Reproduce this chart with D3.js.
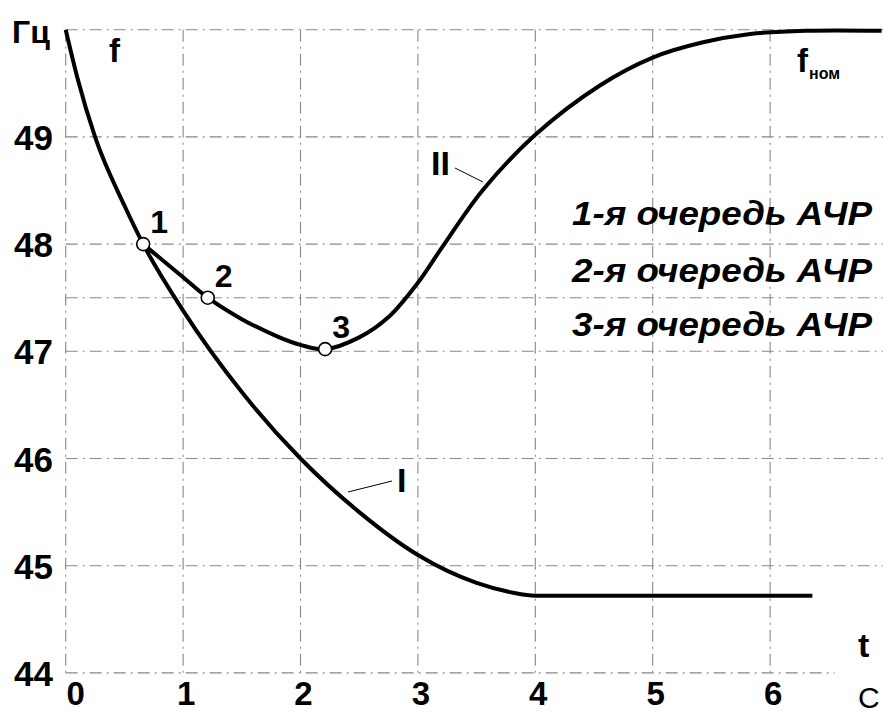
<!DOCTYPE html>
<html>
<head>
<meta charset="utf-8">
<script src="https://cdn.jsdelivr.net/npm/d3@7"></script>
<style>
  body { margin: 0; background: #fff; }
  svg { display: block; font-family: "Liberation Sans", Arial, sans-serif; }
</style>
</head>
<body>
<div id="chart"></div>
<script>
// curve I — без АЧР
const timeI = [0, 0.1, 0.25, 0.5, 0.66, 1, 1.5, 2, 2.5, 3, 3.5, 3.8, 4, 6.36];
const freqI = [50, 49.55, 49, 48.36, 48, 47.38, 46.62, 46.0, 45.5, 45.1, 44.84, 44.75, 44.72, 44.72];

// curve II — с АЧР
const timeII = [0.66, 1.0, 1.21, 1.5, 1.8, 2.0, 2.21, 2.5, 2.75, 3.0, 3.2, 3.55, 4.0, 4.55, 5.0, 5.42, 5.83, 6.3, 6.95];
const freqII = [48, 47.69, 47.5, 47.3, 47.14, 47.06, 47.02, 47.13, 47.32, 47.64, 47.96, 48.5, 49.02, 49.48, 49.74, 49.88, 49.96, 49.99, 49.99];

// очереди АЧР
const stageLabels = ["1", "2", "3"];
const stageTime = [0.66, 1.21, 2.21];
const stageFreq = [48, 47.5, 47.02];
const legendText = ["1-я очередь АЧР", "2-я очередь АЧР", "3-я очередь АЧР"];

const xTicks = [0, 1, 2, 3, 4, 5, 6];
const yTicks = [44, 45, 46, 47, 48, 49];
const yGrid = [44, 45, 46, 47, 47.5, 48, 49, 50];

const width = 883;
const height = 713;

const svg = d3.select("#chart")
    .append("svg")
    .attr("width", width)
    .attr("height", height);

const x = d3.scaleLinear()
    .domain([0, 7])
    .range([65.7, 887.5]);

const y = d3.scaleLinear()
    .domain([44, 50])
    .range([672.9, 29.7]);

// grid
svg.append("g")
    .attr("stroke", "#888")
    .attr("stroke-width", 1.1)
    .attr("stroke-dasharray", "12,5,2,5")
    .selectAll("line")
    .data(xTicks)
    .join("line")
    .attr("x1", d => x(d))
    .attr("x2", d => x(d))
    .attr("y1", y(50))
    .attr("y2", y(44));

svg.append("g")
    .attr("stroke", "#888")
    .attr("stroke-width", 1.1)
    .attr("stroke-dasharray", "12,5,2,5")
    .selectAll("line")
    .data(yGrid)
    .join("line")
    .attr("x1", x(0))
    .attr("x2", d => d === 44 ? x(6.55) : width)
    .attr("y1", d => y(d))
    .attr("y2", d => y(d));

// axis labels
svg.append("g")
    .attr("font-size", "35px")
    .attr("font-weight", "bold")
    .attr("text-anchor", "end")
    .selectAll("text")
    .data(yTicks)
    .join("text")
    .attr("x", 53)
    .attr("y", d => y(d) + 13)
    .text(d => d);

svg.append("g")
    .attr("font-size", "33px")
    .attr("font-weight", "bold")
    .attr("text-anchor", "middle")
    .selectAll("text")
    .data(xTicks)
    .join("text")
    .attr("x", d => x(d) + (d === 0 ? 10 : 3))
    .attr("y", 705)
    .text(d => d);

svg.append("text")
    .attr("x", 12).attr("y", 43)
    .attr("font-size", "32px").attr("font-weight", "bold")
    .text("Гц");

svg.append("text")
    .attr("x", 109).attr("y", 62)
    .attr("font-size", "33px").attr("font-weight", "bold")
    .text("f");

svg.append("text")
    .attr("x", 858).attr("y", 657)
    .attr("font-size", "34px").attr("font-weight", "bold")
    .text("t");

svg.append("text")
    .attr("x", 858).attr("y", 708)
    .attr("font-size", "30px")
    .text("С");

const fnom = svg.append("text")
    .attr("x", 797).attr("y", 72)
    .attr("font-size", "33px").attr("font-weight", "bold");
fnom.append("tspan").text("f");
fnom.append("tspan").attr("font-size", "16px").attr("dy", 7).attr("dx", 1).text("ном");

// curves
const lineI = d3.line()
    .x(d => x(d[0]))
    .y(d => y(d[1]))
    .curve(d3.curveMonotoneX);

const lineII = d3.line()
    .x(d => x(d[0]))
    .y(d => y(d[1]))
    .curve(d3.curveCatmullRom.alpha(0.5));

svg.append("path")
    .datum(d3.zip(timeI, freqI))
    .attr("fill", "none")
    .attr("stroke", "#000")
    .attr("stroke-width", 4)
    .attr("d", lineI);

svg.append("path")
    .datum(d3.zip(timeII, freqII))
    .attr("fill", "none")
    .attr("stroke", "#000")
    .attr("stroke-width", 4)
    .attr("d", lineII);

// leaders for I and II
svg.append("line")
    .attr("x1", 455).attr("y1", 168).attr("x2", 483).attr("y2", 182)
    .attr("stroke", "#000").attr("stroke-width", 1);
svg.append("text")
    .attr("x", 431).attr("y", 175)
    .attr("font-size", "34px").attr("font-weight", "bold")
    .text("II");

svg.append("line")
    .attr("x1", 392).attr("y1", 481).attr("x2", 348).attr("y2", 492)
    .attr("stroke", "#000").attr("stroke-width", 1);
svg.append("text")
    .attr("x", 397).attr("y", 492)
    .attr("font-size", "34px").attr("font-weight", "bold")
    .text("I");

// stage points
const pts = d3.zip(stageTime, stageFreq, stageLabels);

svg.append("g")
    .selectAll("circle")
    .data(pts)
    .join("circle")
    .attr("cx", d => x(d[0]))
    .attr("cy", d => y(d[1]))
    .attr("r", 6.5)
    .attr("fill", "#fff")
    .attr("stroke", "#000")
    .attr("stroke-width", 1.6);

svg.append("g")
    .attr("font-size", "32px")
    .attr("font-weight", "bold")
    .selectAll("text")
    .data(pts)
    .join("text")
    .attr("x", d => x(d[0]) + 7)
    .attr("y", d => y(d[1]) - 11)
    .text(d => d[2]);

// stage captions
svg.append("g")
    .attr("font-size", "34px")
    .attr("font-weight", "bold")
    .attr("font-style", "italic")
    .attr("text-anchor", "end")
    .selectAll("text")
    .data(legendText)
    .join("text")
    .attr("x", 872)
    .attr("y", (d, i) => [225, 282, 336][i])
    .attr("textLength", 300)
    .attr("lengthAdjust", "spacingAndGlyphs")
    .text(d => d);
</script>
</body>
</html>
